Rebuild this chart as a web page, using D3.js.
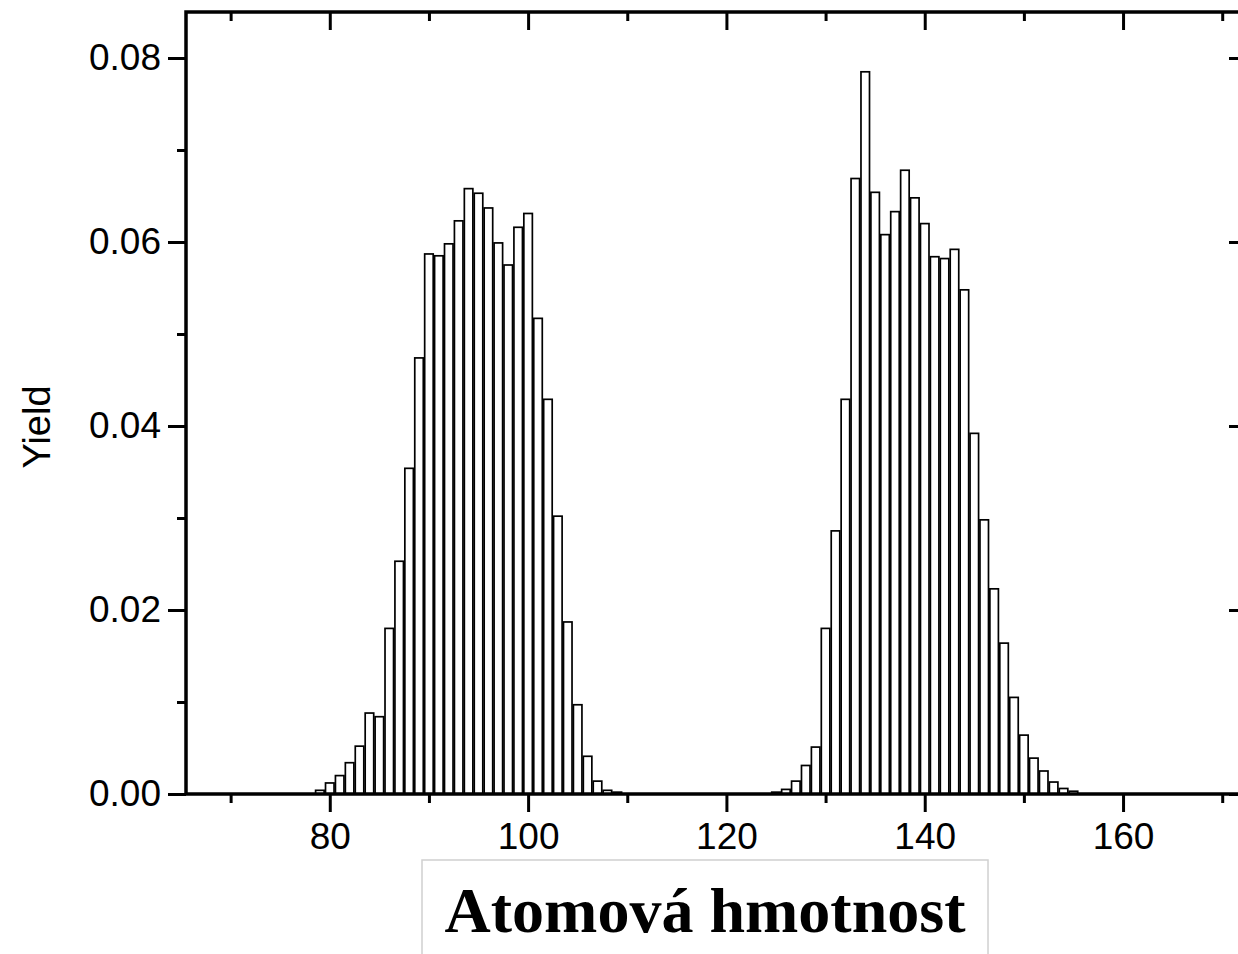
<!DOCTYPE html>
<html>
<head>
<meta charset="utf-8">
<script src="https://cdn.jsdelivr.net/npm/d3@7/dist/d3.min.js"></script>
<style>
  html, body { margin: 0; padding: 0; background: #fff; }
  svg { display: block; }
</style>
</head>
<body>
<svg id="chart" width="1238" height="954"></svg>
<script>
// ---- data ----
const massesLight = [79,80,81,82,83,84,85,86,87,88,89,90,91,92,93,94,95,96,97,98,99,100,101,102,103,104,105,106,107,108,109];
const yieldLight  = [0.0004,0.0012,0.0020,0.0034,0.0052,0.0088,0.0084,0.0180,0.0253,0.0354,0.0474,0.0587,0.0585,0.0598,0.0623,0.0658,0.0653,0.0637,0.0599,0.0575,0.0616,0.0631,0.0517,0.0429,0.0302,0.0187,0.0097,0.0041,0.0014,0.0004,0.0002];
const massesHeavy = [125,126,127,128,129,130,131,132,133,134,135,136,137,138,139,140,141,142,143,144,145,146,147,148,149,150,151,152,153,154,155];
const yieldHeavy  = [0.0002,0.0005,0.0014,0.0031,0.0051,0.0180,0.0286,0.0429,0.0669,0.0785,0.0654,0.0608,0.0633,0.0678,0.0648,0.0620,0.0584,0.0582,0.0592,0.0548,0.0392,0.0298,0.0223,0.0164,0.0105,0.0064,0.0039,0.0025,0.0013,0.0006,0.0003];
const xMajorTicks = [80,100,120,140,160];
const xMinorTicks = [70,90,110,130,150,170];
const yMajorTicks = [0.00,0.02,0.04,0.06,0.08];
const yMinorTicks = [0.01,0.03,0.05,0.07];
const xTitle = "Atomová hmotnost";
const yTitle = "Yield";

// ---- layout ----
const svg = d3.select("#chart");
const pLeft = 186, pRight = 1247, pTop = 12, pBottom = 794;
const x = d3.scaleLinear().domain([65.5, 172.5]).range([pLeft, pRight]);
const y = d3.scaleLinear().domain([0, 0.085]).range([pBottom, pTop]);
const step = x(1) - x(0);
const barW = step * 0.86;

const bars = [];
massesLight.forEach((m, i) => bars.push({m, v: yieldLight[i]}));
massesHeavy.forEach((m, i) => bars.push({m, v: yieldHeavy[i]}));

svg.append("g").selectAll("rect").data(bars).join("rect")
  .attr("x", d => x(d.m) - barW / 2)
  .attr("y", d => y(d.v))
  .attr("width", barW)
  .attr("height", d => y(0) - y(d.v))
  .attr("fill", "#fff")
  .attr("stroke", "#000")
  .attr("stroke-width", 1.7);

const font = "'Liberation Sans', Arial, sans-serif";
function styleAxis(g) {
  g.select(".domain").remove();
  g.selectAll(".tick line").attr("stroke", "#000").attr("stroke-width", 3);
  g.selectAll(".tick text").attr("font-family", font).attr("font-size", 37).attr("fill", "#000");
}

// bottom
svg.append("g").attr("transform", `translate(0,${pBottom})`)
  .call(d3.axisBottom(x).tickValues(xMajorTicks).tickSize(18).tickPadding(11).tickFormat(d3.format("d")))
  .call(styleAxis);
svg.append("g").attr("transform", `translate(0,${pBottom})`)
  .call(d3.axisBottom(x).tickValues(xMinorTicks).tickSize(9).tickFormat(""))
  .call(styleAxis);
// top (inward)
svg.append("g").attr("transform", `translate(0,${pTop})`)
  .call(d3.axisBottom(x).tickValues(xMajorTicks).tickSize(18).tickFormat(""))
  .call(styleAxis);
svg.append("g").attr("transform", `translate(0,${pTop})`)
  .call(d3.axisBottom(x).tickValues(xMinorTicks).tickSize(9).tickFormat(""))
  .call(styleAxis);
// left
svg.append("g").attr("transform", `translate(${pLeft},0)`)
  .call(d3.axisLeft(y).tickValues(yMajorTicks).tickSize(18).tickPadding(7).tickFormat(d3.format(".2f")))
  .call(styleAxis);
svg.append("g").attr("transform", `translate(${pLeft},0)`)
  .call(d3.axisLeft(y).tickValues(yMinorTicks).tickSize(9).tickFormat(""))
  .call(styleAxis);
// right (inward)
svg.append("g").attr("transform", `translate(${pRight},0)`)
  .call(d3.axisLeft(y).tickValues(yMajorTicks).tickSize(18).tickFormat(""))
  .call(styleAxis);
svg.append("g").attr("transform", `translate(${pRight},0)`)
  .call(d3.axisLeft(y).tickValues(yMinorTicks).tickSize(9).tickFormat(""))
  .call(styleAxis);

// frame
svg.append("rect").attr("x", pLeft).attr("y", pTop)
  .attr("width", pRight - pLeft).attr("height", pBottom - pTop)
  .attr("fill", "none").attr("stroke", "#000").attr("stroke-width", 3.5);

// y title
svg.append("text")
  .attr("transform", `translate(50,427) rotate(-90)`)
  .attr("text-anchor", "middle")
  .attr("font-family", font).attr("font-size", 38)
  .text(yTitle);

// x title box
svg.append("rect").attr("x", 422).attr("y", 860).attr("width", 566).attr("height", 110)
  .attr("fill", "#fff").attr("stroke", "#d0d0d0").attr("stroke-width", 1.5);
svg.append("text")
  .attr("x", 705).attr("y", 932)
  .attr("text-anchor", "middle")
  .attr("font-family", "'Liberation Serif', 'Times New Roman', serif")
  .attr("font-weight", "bold").attr("font-size", 64)
  .text(xTitle);
</script>
</body>
</html>
